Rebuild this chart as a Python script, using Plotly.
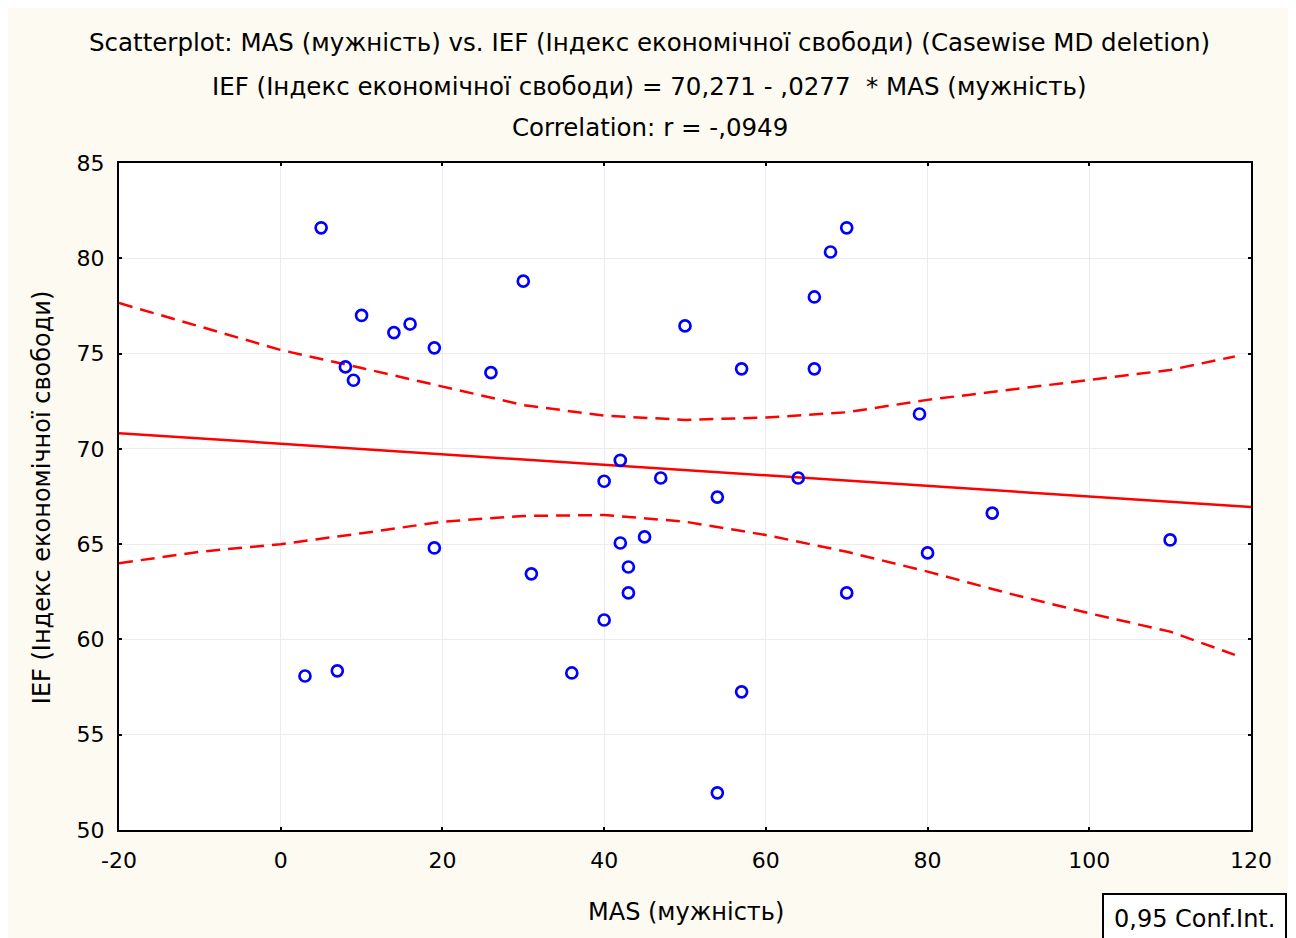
import plotly.graph_objects as go

# Scatter data (MAS vs IEF)
mas = [5, 10, 8, 9, 14, 16, 19, 26, 30,
       50, 57, 70, 68, 66, 66, 79,
       42, 40, 47, 64, 54, 88,
       19, 42, 45, 43, 43, 40, 31, 80, 110, 70,
       3, 7, 36, 57, 54]
ief = [81.6, 77.0, 74.3, 73.6, 76.1, 76.55, 75.3, 74.0, 78.8,
       76.45, 74.2, 81.6, 80.33, 77.97, 74.2, 71.83,
       69.4, 68.3, 68.47, 68.47, 67.47, 66.63,
       64.8, 65.06, 65.38, 63.8, 62.44, 61.02, 63.44, 64.54, 65.22, 62.44,
       58.08, 58.35, 58.24, 57.25, 51.95]

# Regression line endpoints (IEF = 70,271 - 0,0277 * MAS)
fit_x = [-20, 120]
fit_y = [70.825, 66.947]

# 0,95 confidence band
band_x = [-20, -10, 0, 10, 20, 30, 40, 50, 60, 70, 80, 90, 100, 110, 118]
band_upper = [77.65, 76.4, 75.19, 74.24, 73.25, 72.3, 71.74, 71.52, 71.64, 71.92,
              72.57, 73.1, 73.6, 74.14, 74.85]
band_lower = [64.0, 64.6, 65.0, 65.57, 66.18, 66.48, 66.53, 66.18, 65.48, 64.6,
              63.56, 62.42, 61.37, 60.41, 59.19]

x_ticks = [-20, 0, 20, 40, 60, 80, 100, 120]
y_ticks = [50, 55, 60, 65, 70, 75, 80, 85]

FONT = "DejaVu Sans, Liberation Sans, sans-serif"

fig = go.Figure()
fig.add_trace(go.Scatter(x=band_x, y=band_upper, mode="lines",
                         line=dict(color="#FF0000", width=2.5, dash="14px,8px"), hoverinfo="skip"))
fig.add_trace(go.Scatter(x=band_x, y=band_lower, mode="lines",
                         line=dict(color="#FF0000", width=2.5, dash="14px,8px"), hoverinfo="skip"))
fig.add_trace(go.Scatter(x=fit_x, y=fit_y, mode="lines",
                         line=dict(color="#FF0000", width=2.5)))
fig.add_trace(go.Scatter(x=mas, y=ief, mode="markers",
                         marker=dict(symbol="circle-open", size=11, color="#0000FF",
                                     line=dict(width=2.7, color="#0000FF"))))

fig.update_layout(
    width=1288, height=930,
    margin=dict(l=111, r=45, t=155, b=108),
    paper_bgcolor="#FCFAF1",
    plot_bgcolor="#FFFFFF",
    showlegend=False,
    font=dict(family=FONT, size=22, color="#000000"),
)
axis_common = dict(showgrid=True, gridcolor="#ECECF0", gridwidth=1, zeroline=False,
                   showline=True, linecolor="#000000", linewidth=2, mirror="ticks",
                   ticks="inside", ticklen=3, tickwidth=2, tickcolor="#000000",
                   tickfont=dict(size=22, family=FONT, color="#000000"))
fig.update_xaxes(range=[-20, 120], tickvals=x_ticks, ticktext=[str(v) for v in x_ticks],
                 ticklabelstandoff=10, **axis_common)
fig.update_yaxes(range=[50, 85], tickvals=y_ticks, ticktext=[str(v) for v in y_ticks],
                 ticklabelstandoff=8, **axis_common)

titles = [
    ("Scatterplot: MAS (мужність) vs. IEF (Індекс економічної свободи) (Casewise MD deletion)", 1.18),
    ("IEF (Індекс економічної свободи) = 70,271 - ,0277  * MAS (мужність)", 1.115),
    ("Correlation: r = -,0949", 1.0525),
]
for txt, yy in titles:
    fig.add_annotation(text=txt, x=0.469, y=yy, xref="paper", yref="paper",
                       showarrow=False, xanchor="center", yanchor="middle",
                       font=dict(size=24.5, family=FONT, color="#000000"))

fig.add_annotation(text="IEF (Індекс економічної свободи)", x=-0.068, y=0.499,
                   xref="paper", yref="paper", showarrow=False, textangle=-90,
                   xanchor="center", yanchor="middle",
                   font=dict(size=24, family=FONT, color="#000000"))
fig.add_annotation(text="MAS (мужність)", x=0.501, y=-0.123,
                   xref="paper", yref="paper", showarrow=False,
                   xanchor="center", yanchor="middle",
                   font=dict(size=24, family=FONT, color="#000000"))
fig.add_annotation(text="0,95 Conf.Int.", x=0.9497, y=-0.134,
                   xref="paper", yref="paper", showarrow=False,
                   xanchor="center", yanchor="middle",
                   bordercolor="#000000", borderwidth=2, borderpad=10,
                   bgcolor="#FFFFFF",
                   font=dict(size=24, family=FONT, color="#000000"))

fig.write_html("out.html")
